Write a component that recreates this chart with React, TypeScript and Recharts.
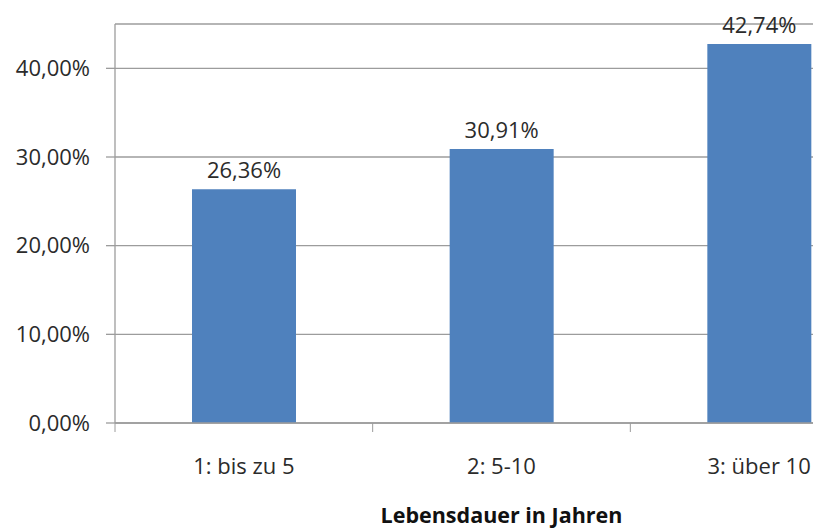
import { BarChart, Bar, XAxis, YAxis, CartesianGrid, LabelList, Label } from 'recharts';

const categories = ['1: bis zu 5', '2: 5-10', '3: über 10'];
const shares = [26.36, 30.91, 42.74];
const yTicks = [0, 10, 20, 30, 40];

const data = categories.map((name, i) => ({ name, value: shares[i] }));

const chartWidth = 900;
const chartHeight = 529;
const yAxisWidth = 115;
const rightMargin = 12;
const bandWidth = (chartWidth - yAxisWidth - rightMargin) / categories.length;

const gray = '#9c9c9c';
const textColor = '#2b2b2b';
const font = '"Open Sans", sans-serif';

const pct = (v: number) => `${v.toFixed(2).replace('.', ',')}%`;

// category ticks sit between the bars (at band edges), labels at band centers
const CategoryTick = (props: any) => {
  const { x, y, payload } = props;
  const edge = x - bandWidth / 2;
  return (
    <g>
      <line x1={edge} y1={y} x2={edge} y2={y + 9} stroke={gray} strokeWidth={1} />
      <text x={x} y={y + 51} textAnchor="middle" fill={textColor} fontSize={22} fontFamily={font}>
        {payload.value}
      </text>
    </g>
  );
};

const App = () => {
  return (
    <div style={{ position: 'absolute', left: 0, top: 0, width: 813, height: 529, overflow: 'hidden', background: '#fff' }}>
      <BarChart
        width={chartWidth}
        height={chartHeight}
        data={data}
        margin={{ top: 24, right: rightMargin, bottom: 0, left: 0 }}
      >
        <CartesianGrid horizontal vertical={false} stroke={gray} strokeWidth={1.3} />
        <XAxis
          dataKey="name"
          height={106}
          tickLine={false}
          tickSize={0}
          tickMargin={0}
          axisLine={{ stroke: gray, strokeWidth: 1.3 }}
          tick={<CategoryTick />}
          interval={0}
        >
          <Label
            value="Lebensdauer in Jahren"
            position="insideBottom"
            offset={6}
            fill="#111"
            fontSize={21.5}
            fontWeight="bold"
            fontFamily={font}
          />
        </XAxis>
        <YAxis
          width={yAxisWidth}
          domain={[0, 45]}
          ticks={yTicks}
          allowDataOverflow
          tickFormatter={pct}
          tickSize={9}
          tickMargin={16}
          tickLine={{ stroke: gray, strokeWidth: 1.3 }}
          axisLine={{ stroke: gray, strokeWidth: 1.3 }}
          tick={{ fill: textColor, fontSize: 22, fontFamily: font }}
        />
        <Bar dataKey="value" fill="#4f81bd" barSize={104} isAnimationActive={false}>
          <LabelList
            dataKey="value"
            position="top"
            offset={11}
            formatter={(v: any) => pct(Number(v))}
            fill={textColor}
            fontSize={22}
            fontFamily={font}
          />
        </Bar>
      </BarChart>
    </div>
  );
};

export default App;
